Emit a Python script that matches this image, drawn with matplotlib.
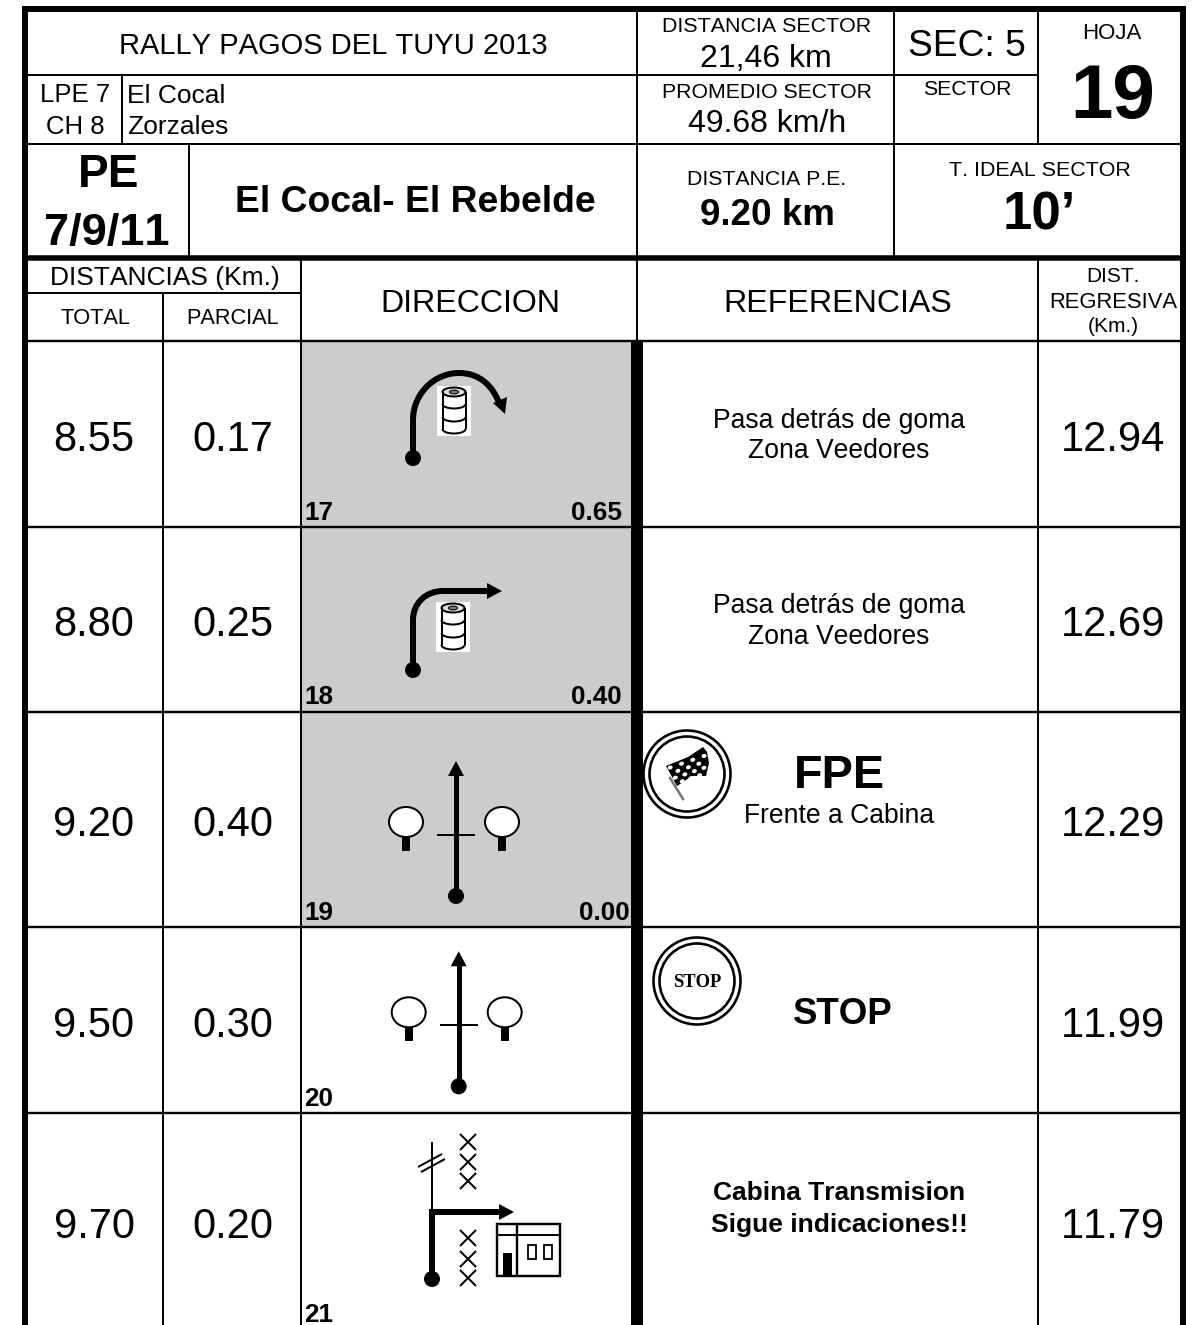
import matplotlib
matplotlib.use('Agg')
import matplotlib.pyplot as plt
from matplotlib.patches import Rectangle, Ellipse, Circle, Polygon, PathPatch, Arc
from matplotlib.path import Path

plt.rcParams['font.family'] = ['Liberation Sans', 'DejaVu Sans']
# no pair kerning, so 11.99 keeps full width digits
plt.rcParams['text.kerning_factor'] = 20

# road book rows
total = ['8.55', '8.80', '9.20', '9.50', '9.70']
parcial = ['0.17', '0.25', '0.40', '0.30', '0.20']
regresiva = ['12.94', '12.69', '12.29', '11.99', '11.79']
numero = ['17', '18', '19', '20', '21']
resto = ['0.65', '0.40', '0.00', '', '']
row_base = [451, 636, 836, 1037, 1238]
num_base = [520, 704, 920, 1106, 1322]
rest_right = [622, 622, 630, 622, 622]

W, H = 1202, 1325
fig = plt.figure(figsize=(W / 100, H / 100), dpi=100)
ax = fig.add_axes([0, 0, 1, 1])
ax.set_xlim(0, W)
ax.set_ylim(H, 0)
ax.axis('off')

def px(n):
    return n * 0.72

def T(x, y, s, size, bold=False, ha='center', **kw):
    ax.text(x, y, s, fontsize=size, ha=ha, va='baseline', color='black',
            fontweight='bold' if bold else 'normal', zorder=10, **kw)

def L(xs, ys, w=2, z=5, c='black'):
    ax.plot(xs, ys, color=c, lw=px(w), solid_capstyle='butt', zorder=z)

def dot(x, y, r=8):
    ax.add_patch(Circle((x, y), r, fc='black', ec='none', zorder=6))

def head(x, y, d, length=15, half=8):
    # d: 'u' up, 'r' right
    if d == 'u':
        pts = [(x, y), (x - half, y + length), (x + half, y + length)]
    else:
        pts = [(x, y), (x - length, y - half), (x - length, y + half)]
    ax.add_patch(Polygon(pts, fc='black', ec='none', zorder=6))

def curve(verts, codes, w=6):
    ax.add_patch(PathPatch(Path(verts, codes), fc='none', ec='black', lw=px(w),
                           capstyle='butt', zorder=5))

def barrel(x0, y0, w=34, h=50):
    ax.add_patch(Rectangle((x0, y0), w, h, fc='white', ec='none', zorder=6))
    cx = x0 + w / 2
    bw = 23
    top = y0 + 6
    lw = px(2)
    ax.add_patch(Ellipse((cx, top), bw, 9, fc='#dddddd', ec='black', lw=lw, zorder=7))
    ax.add_patch(Ellipse((cx, top), 9, 4, fc='#777777', ec='black', lw=px(1), zorder=7))
    L([cx - bw / 2] * 2, [top, y0 + 43], 2, 7)
    L([cx + bw / 2] * 2, [top, y0 + 43], 2, 7)
    for yy in [y0 + 18, y0 + 31, y0 + 43]:
        ax.add_patch(Arc((cx, yy), bw, 9, theta1=0, theta2=180, ec='black', lw=lw, zorder=7))

def tree(x, y):
    ax.add_patch(Rectangle((x - 4, y + 14), 8, 15, fc='black', ec='none', zorder=6))
    ax.add_patch(Ellipse((x, y), 34, 30, fc='white', ec='black', lw=px(2), zorder=7))

def straight(dx, dy):
    dot(456 + dx, 896 + dy)
    L([456 + dx] * 2, [896 + dy, 775 + dy], 5)
    head(456 + dx, 761 + dy, 'u')
    L([437 + dx, 475 + dx], [835 + dy] * 2, 2)
    tree(406 + dx, 822 + dy)
    tree(502 + dx, 822 + dy)

def cross(x, y, s=8):
    L([x - s, x + s], [y - s, y + s], 2)
    L([x - s, x + s], [y + s, y - s], 2)

def rings(x, y):
    ax.add_patch(Circle((x, y), 43.5, fc='white', ec='black', lw=px(2.6), zorder=6))
    ax.add_patch(Circle((x, y), 37.5, fc='white', ec='black', lw=px(2.6), zorder=6))

def flag():
    # checker cells on a skewed quad
    a, b, c, d = (666, 766), (707, 752), (706, 776), (677, 786)
    ax.plot([670, 683], [778, 799], color='#777777', lw=px(2.5), zorder=7)
    ax.add_patch(Polygon([a, (688, 757), (703, 747), b, (709, 763), c, (692, 776), d],
                         fc='black', ec='none', zorder=7))
    nx, ny = 7, 4
    for i in range(nx):
        for j in range(ny):
            if (i + j) % 2:
                continue
            u, v = (i + 0.5) / nx, (j + 0.5) / ny
            xx = (1 - v) * ((1 - u) * a[0] + u * b[0]) + v * ((1 - u) * d[0] + u * c[0])
            yy = (1 - v) * ((1 - u) * a[1] + u * b[1]) + v * ((1 - u) * d[1] + u * c[1])
            ax.add_patch(Ellipse((xx, yy), 5, 4, angle=-20, fc='white', ec='none', zorder=8))

# gray rows
ax.add_patch(Rectangle((302, 342), 329, 585, fc='#cccccc', ec='none', zorder=1))

# grid
for y in [527, 712, 927, 1113]:
    L([28, 1180], [y, y], 2.4)
L([28, 1038], [75, 75])
L([28, 1180], [144, 144])
L([28, 301], [293, 293])
L([28, 1180], [341, 341], 2.4)
L([122, 122], [75, 144])
L([189, 189], [144, 257])
L([163, 163], [293, H])
L([301, 301], [257, H])
L([637, 637], [12, 341])
L([894, 894], [12, 257])
L([1038, 1038], [12, 144])
L([1038, 1038], [257, H])
L([637, 637], [341, H], 12)
L([22, 1186], [258, 258], 5.5)
L([25, 25], [6, H], 6)
L([1183, 1183], [6, H], 6)
L([22, 1186], [9, 9], 6)

# header texts
T(333, 54, 'RALLY PAGOS DEL TUYU 2013', 21)
T(75, 102, 'LPE 7', 18.5)
T(75, 134, 'CH 8', 18.5)
T(127, 103, 'El Cocal', 19, ha='left')
T(127, 134, 'Zorzales', 19, ha='left')
T(109, 187, 'PE', 33, bold=True)
T(107, 245, '7/9/11', 32.5, bold=True)
T(415, 212, 'El Cocal- El Rebelde', 26.8, bold=True)
T(767, 32, 'DISTANCIA SECTOR', 15.4)
T(766, 67, '21,46 km', 23)
T(767, 98, 'PROMEDIO SECTOR', 15.3)
T(767, 132, '49.68 km/h', 23)
T(967, 56, 'SEC: 5', 26.8)
T(967, 95, 'SECTOR', 15.3)
T(1112, 39, 'HOJA', 16)
T(1113, 118, '19', 55, bold=True)
T(767, 185, 'DISTANCIA P.E.', 15.3)
T(767, 225, '9.20 km', 26.5, bold=True)
T(1040, 176, 'T. IDEAL SECTOR', 15.4)
T(1039, 230, '10’', 38, bold=True)
T(165, 285, 'DISTANCIAS (Km.)', 19)
T(95, 324, 'TOTAL', 15.7)
T(233, 324, 'PARCIAL', 15.7)
T(470, 312, 'DIRECCION', 23.1)
T(838, 312, 'REFERENCIAS', 23.1)
T(1113, 282, 'DIST.', 15)
T(1113, 308, 'REGRESIVA', 15.8)
T(1113, 332, '(Km.)', 15)

# rows
for i in range(len(total)):
    T(94, row_base[i], total[i], 30)
    T(233, row_base[i], parcial[i], 30)
    T(1113, row_base[i], regresiva[i], 30)
    T(304, num_base[i], numero[i], 18.8, bold=True, ha='left')
    if resto[i]:
        T(rest_right[i], num_base[i], resto[i], 18.8, bold=True, ha='right')

T(839, 428, 'Pasa detrás de goma', 19.1)
T(839, 458, 'Zona Veedores', 19.1)
T(839, 613, 'Pasa detrás de goma', 19.1)
T(839, 644, 'Zona Veedores', 19.1)
T(839, 788, 'FPE', 33.7, bold=True)
T(839, 823, 'Frente a Cabina', 19.1)
T(843, 1024, 'STOP', 26.4, bold=True)
T(839, 1200, 'Cabina Transmision', 19, bold=True)
T(839, 1232, 'Sigue indicaciones!!', 19, bold=True)

# row 1 icon
dot(413, 458)
curve([(413, 458), (413, 420), (413, 394), (434, 373), (459, 373), (480, 373), (493, 386), (500, 405)],
      [Path.MOVETO, Path.LINETO, Path.CURVE4, Path.CURVE4, Path.CURVE4, Path.CURVE4, Path.CURVE4, Path.CURVE4])
ax.add_patch(Polygon([(505, 414), (493, 403), (507, 397)], fc='black', ec='none', zorder=6))
barrel(437, 386)

# row 2 icon
dot(413, 670)
curve([(413, 670), (413, 620), (413, 603), (426, 591), (443, 591), (488, 591)],
      [Path.MOVETO, Path.LINETO, Path.CURVE4, Path.CURVE4, Path.CURVE4, Path.LINETO])
head(502, 591, 'r')
barrel(436, 602)

# rows 3 and 4 icons
straight(0, 0)
straight(2.7, 190.3)

# row 5 icon
dot(432, 1279)
L([432, 432], [1279, 1212], 6)
L([429, 500], [1212, 1212], 6)
head(514, 1212, 'r')
L([432, 432], [1212, 1142], 2)
L([418, 442], [1167, 1154], 2)
L([421, 445], [1172, 1159], 2)
for yy in [1142, 1162, 1181, 1238, 1259, 1278]:
    cross(468, yy)
ax.add_patch(Rectangle((497, 1224), 63, 52, fc='white', ec='black', lw=px(2.4), zorder=5))
L([497, 560], [1235, 1235])
L([517, 517], [1224, 1276], 2.4)
ax.add_patch(Rectangle((503, 1253), 9, 23, fc='black', ec='none', zorder=6))
for xx in [528, 544]:
    ax.add_patch(Rectangle((xx, 1245), 8, 14, fc='white', ec='black', lw=px(1.8), zorder=6))

# signs
rings(687, 774)
flag()
rings(697, 981)
T(697, 987, 'STOP', 13.3, bold=True, family=['Liberation Serif'])

fig.savefig('out.png', dpi=100)
